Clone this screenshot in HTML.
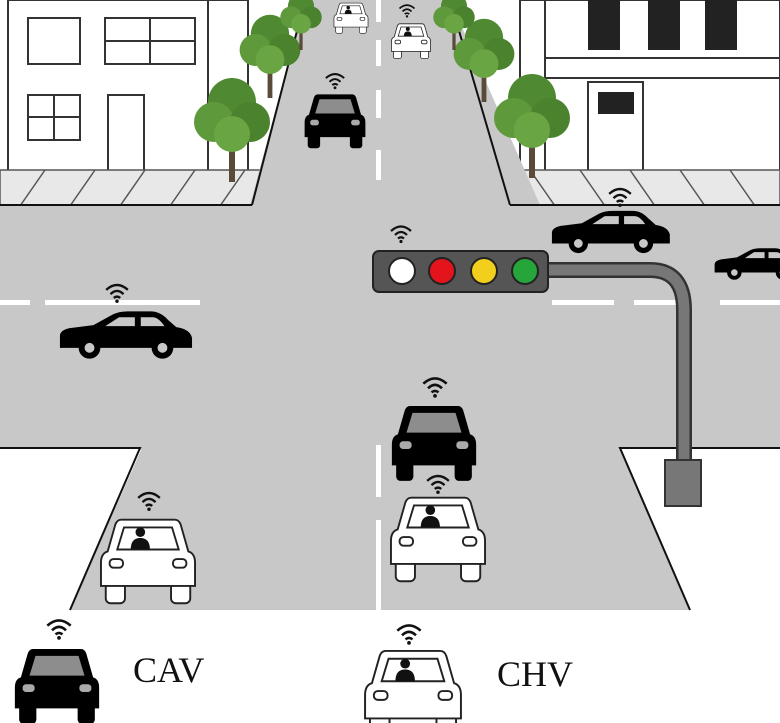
<!DOCTYPE html>
<html><head><meta charset="utf-8"><style>
html,body{margin:0;padding:0;background:#fff}
svg{display:block}
text{font-family:"Liberation Serif",serif}
</style></head><body>
<svg width="780" height="723" viewBox="0 0 780 723" xmlns="http://www.w3.org/2000/svg">
<defs>
<symbol id="wifi" viewBox="0 0 24 20">
<path d="M2,8 Q12,-1 22,8" fill="none" stroke="#111" stroke-width="2.2"/>
<path d="M6,12 Q12,6 18,12" fill="none" stroke="#111" stroke-width="2.2"/>
<path d="M9,15.5 Q12,13 15,15.5" fill="none" stroke="#111" stroke-width="2.2"/>
<circle cx="12" cy="18.5" r="1.6" fill="#111"/>
</symbol>
<symbol id="bcar" viewBox="0 0 100 92">
<rect x="6" y="62" width="20" height="28" rx="5" fill="#000"/>
<rect x="74" y="62" width="20" height="28" rx="5" fill="#000"/>
<path d="M22,3 H78 Q82,3 84,8 L92,36 Q99,38 99,48 V72 H1 V48 Q1,38 8,36 L16,8 Q18,3 22,3 Z" fill="#000"/>
<path d="M25,11 H75 L82,34 H18 Z" fill="#8d8d8d"/>
<rect x="10" y="44" width="14" height="9" rx="4" fill="#aaa"/>
<rect x="76" y="44" width="14" height="9" rx="4" fill="#aaa"/>
</symbol>
<symbol id="wcar" viewBox="0 0 100 92">
<rect x="6" y="62" width="20" height="28" rx="5" fill="#fff" stroke="#222" stroke-width="2"/>
<rect x="74" y="62" width="20" height="28" rx="5" fill="#fff" stroke="#222" stroke-width="2"/>
<path d="M22,3 H78 Q82,3 84,8 L92,36 Q99,38 99,48 V72 H1 V48 Q1,38 8,36 L16,8 Q18,3 22,3 Z" fill="#fff" stroke="#222" stroke-width="2"/>
<path d="M25,11 H75 L82,34 H18 Z" fill="#fff" stroke="#222" stroke-width="2"/>
<circle cx="42" cy="16" r="5" fill="#111"/>
<path d="M32,34 Q32,22 42,22 Q52,22 52,34 Z" fill="#111"/>
<rect x="10" y="44" width="14" height="9" rx="4" fill="#fff" stroke="#222" stroke-width="2"/>
<rect x="76" y="44" width="14" height="9" rx="4" fill="#fff" stroke="#222" stroke-width="2"/>
</symbol>
<symbol id="scar" viewBox="0 0 140 50">
<path d="M4,38 V26 Q4,20 14,18 L38,15 L58,4 Q64,1 74,1 H96 Q106,1 114,10 L122,17 Q136,19 138,28 V38 Z" fill="#000"/>
<path d="M50,16 L64,7 H80 V16 Z M86,7 H98 Q104,7 110,16 H86 Z" fill="#c8c8c8"/>
<circle cx="34" cy="38" r="11" fill="#000"/><circle cx="34" cy="38" r="5" fill="#c8c8c8"/>
<circle cx="108" cy="38" r="11" fill="#000"/><circle cx="108" cy="38" r="5" fill="#c8c8c8"/>
</symbol>
<symbol id="tree" viewBox="0 0 80 110">
<rect x="37" y="60" width="6" height="50" fill="#5a4a3a"/>
<circle cx="40" cy="30" r="24" fill="#4f8a32"/>
<circle cx="22" cy="50" r="20" fill="#5e9a3c"/>
<circle cx="58" cy="50" r="20" fill="#4a822e"/>
<circle cx="40" cy="62" r="18" fill="#6aa544"/>
</symbol>
</defs>

<!-- buildings -->
<rect x="0" y="0" width="780" height="723" fill="#fff"/>
<rect x="8" y="0" width="200" height="172" fill="#fff" stroke="#333" stroke-width="2"/>
<rect x="208" y="0" width="40" height="172" fill="#fff" stroke="#333" stroke-width="2"/>
<rect x="28" y="18" width="52" height="46" fill="none" stroke="#333" stroke-width="2"/>
<rect x="105" y="18" width="90" height="46" fill="none" stroke="#333" stroke-width="2"/>
<line x1="150" y1="18" x2="150" y2="64" stroke="#333" stroke-width="2"/>
<line x1="105" y1="41" x2="195" y2="41" stroke="#333" stroke-width="2"/>
<rect x="28" y="95" width="52" height="45" fill="none" stroke="#333" stroke-width="2"/>
<line x1="54" y1="95" x2="54" y2="140" stroke="#333" stroke-width="2"/>
<line x1="28" y1="117" x2="80" y2="117" stroke="#333" stroke-width="2"/>
<rect x="108" y="95" width="36" height="77" fill="none" stroke="#333" stroke-width="2"/>
<rect x="545" y="0" width="235" height="172" fill="#fff" stroke="#333" stroke-width="2"/>
<rect x="545" y="58" width="235" height="20" fill="#fff" stroke="#333" stroke-width="2"/>
<rect x="588" y="0" width="32" height="50" fill="#222"/>
<rect x="648" y="0" width="32" height="50" fill="#222"/>
<rect x="705" y="0" width="32" height="50" fill="#222"/>
<rect x="588" y="82" width="55" height="90" fill="none" stroke="#333" stroke-width="2"/>
<rect x="598" y="92" width="36" height="22" fill="#222"/>
<rect x="520" y="0" width="25" height="172" fill="#fff" stroke="#333" stroke-width="2"/>

<!-- sidewalk -->
<rect x="0" y="170" width="780" height="36" fill="#e8e8e8" stroke="#555" stroke-width="1.5"/>
<g stroke="#555" stroke-width="1.5">
<line x1="20" y1="206" x2="45" y2="170"/><line x1="70" y1="206" x2="95" y2="170"/><line x1="120" y1="206" x2="145" y2="170"/><line x1="170" y1="206" x2="195" y2="170"/><line x1="220" y1="206" x2="245" y2="170"/>
<line x1="530" y1="170" x2="555" y2="206"/><line x1="580" y1="170" x2="605" y2="206"/><line x1="630" y1="170" x2="655" y2="206"/><line x1="680" y1="170" x2="705" y2="206"/><line x1="730" y1="170" x2="755" y2="206"/>
</g>

<!-- roads -->
<rect x="0" y="205" width="780" height="245" fill="#c8c8c8"/>
<polygon points="305,0 450,0 540,205 690,610 70,610 250,205" fill="#c8c8c8"/>
<polygon points="0,448 140,448 70,610 0,610" fill="#fff"/>
<polygon points="620,448 780,448 780,610 690,610" fill="#fff"/>
<g stroke="#111" stroke-width="2" fill="none">
<polyline points="0,448 140,448 70,610"/>
<polyline points="780,448 620,448 690,610"/>
<line x1="305" y1="0" x2="252" y2="205"/>
<line x1="450" y1="0" x2="510" y2="205"/>
<line x1="0" y1="205" x2="252" y2="205"/>
<line x1="510" y1="205" x2="780" y2="205"/>
</g>
<g fill="#fff">
<rect x="376" y="0" width="5" height="22"/><rect x="376" y="40" width="5" height="26"/><rect x="376" y="90" width="5" height="28"/><rect x="376" y="150" width="5" height="30"/>
<rect x="376" y="445" width="5" height="52"/><rect x="376" y="520" width="5" height="90"/>
<rect x="0" y="300" width="30" height="5"/><rect x="45" y="300" width="155" height="5"/>
<rect x="552" y="300" width="62" height="5"/><rect x="634" y="300" width="50" height="5"/><rect x="720" y="300" width="60" height="5"/>
</g>

<!-- trees -->
<use href="#tree" x="192" y="72" width="80" height="110"/>
<use href="#tree" x="238" y="10" width="64" height="88"/>
<use href="#tree" x="275" y="-10" width="52" height="60"/>
<use href="#tree" x="492" y="68" width="80" height="110"/>
<use href="#tree" x="452" y="14" width="64" height="88"/>
<use href="#tree" x="428" y="-10" width="52" height="60"/>

<!-- traffic pole -->
<path d="M548,270 H650 Q684,270 684,310 V462" fill="none" stroke="#333" stroke-width="16"/>
<path d="M548,270 H650 Q684,270 684,310 V462" fill="none" stroke="#777" stroke-width="11"/>
<rect x="665" y="460" width="36" height="46" fill="#777" stroke="#333" stroke-width="2"/>
<rect x="373" y="251" width="175" height="41" rx="6" fill="#555" stroke="#222" stroke-width="2"/>
<circle cx="402" cy="271" r="13" fill="#fff" stroke="#222" stroke-width="2"/>
<circle cx="442" cy="271" r="13" fill="#e3141b" stroke="#222" stroke-width="2"/>
<circle cx="484" cy="271" r="13" fill="#f2cf1d" stroke="#222" stroke-width="2"/>
<circle cx="525" cy="271" r="13" fill="#26a53b" stroke="#222" stroke-width="2"/>
<use href="#wifi" x="389" y="222" width="24" height="22"/>

<!-- vehicles -->
<use href="#wcar" x="332" y="2" width="38" height="32"/>
<use href="#wcar" x="391" y="22" width="40" height="38"/>
<use href="#wifi" x="398" y="2" width="18" height="16"/>
<use href="#bcar" x="304" y="92" width="62" height="58"/>
<use href="#wifi" x="324" y="70" width="22" height="20"/>
<use href="#scar" x="548" y="210" width="124" height="44"/>
<use href="#wifi" x="607" y="185" width="26" height="22"/>
<use href="#scar" x="712" y="244" width="92" height="40"/>
<use href="#scar" x="56" y="310" width="138" height="50"/>
<use href="#wifi" x="104" y="280" width="26" height="24"/>
<use href="#bcar" x="391" y="402" width="86" height="82"/>
<use href="#wifi" x="421" y="374" width="28" height="24"/>
<use href="#wcar" x="390" y="494" width="96" height="90"/>
<use href="#wifi" x="425" y="472" width="26" height="22"/>
<use href="#wcar" x="100" y="515" width="96" height="92"/>
<use href="#wifi" x="136" y="488" width="26" height="24"/>

<!-- legend -->
<use href="#bcar" x="14" y="645" width="86" height="82"/>
<use href="#wifi" x="45" y="615" width="28" height="26"/>
<text x="133" y="682" font-size="36" fill="#111">CAV</text>
<use href="#wcar" x="364" y="648" width="98" height="90"/>
<use href="#wifi" x="395" y="620" width="28" height="26"/>
<text x="497" y="686" font-size="36" fill="#111">CHV</text>
</svg>
</body></html>
